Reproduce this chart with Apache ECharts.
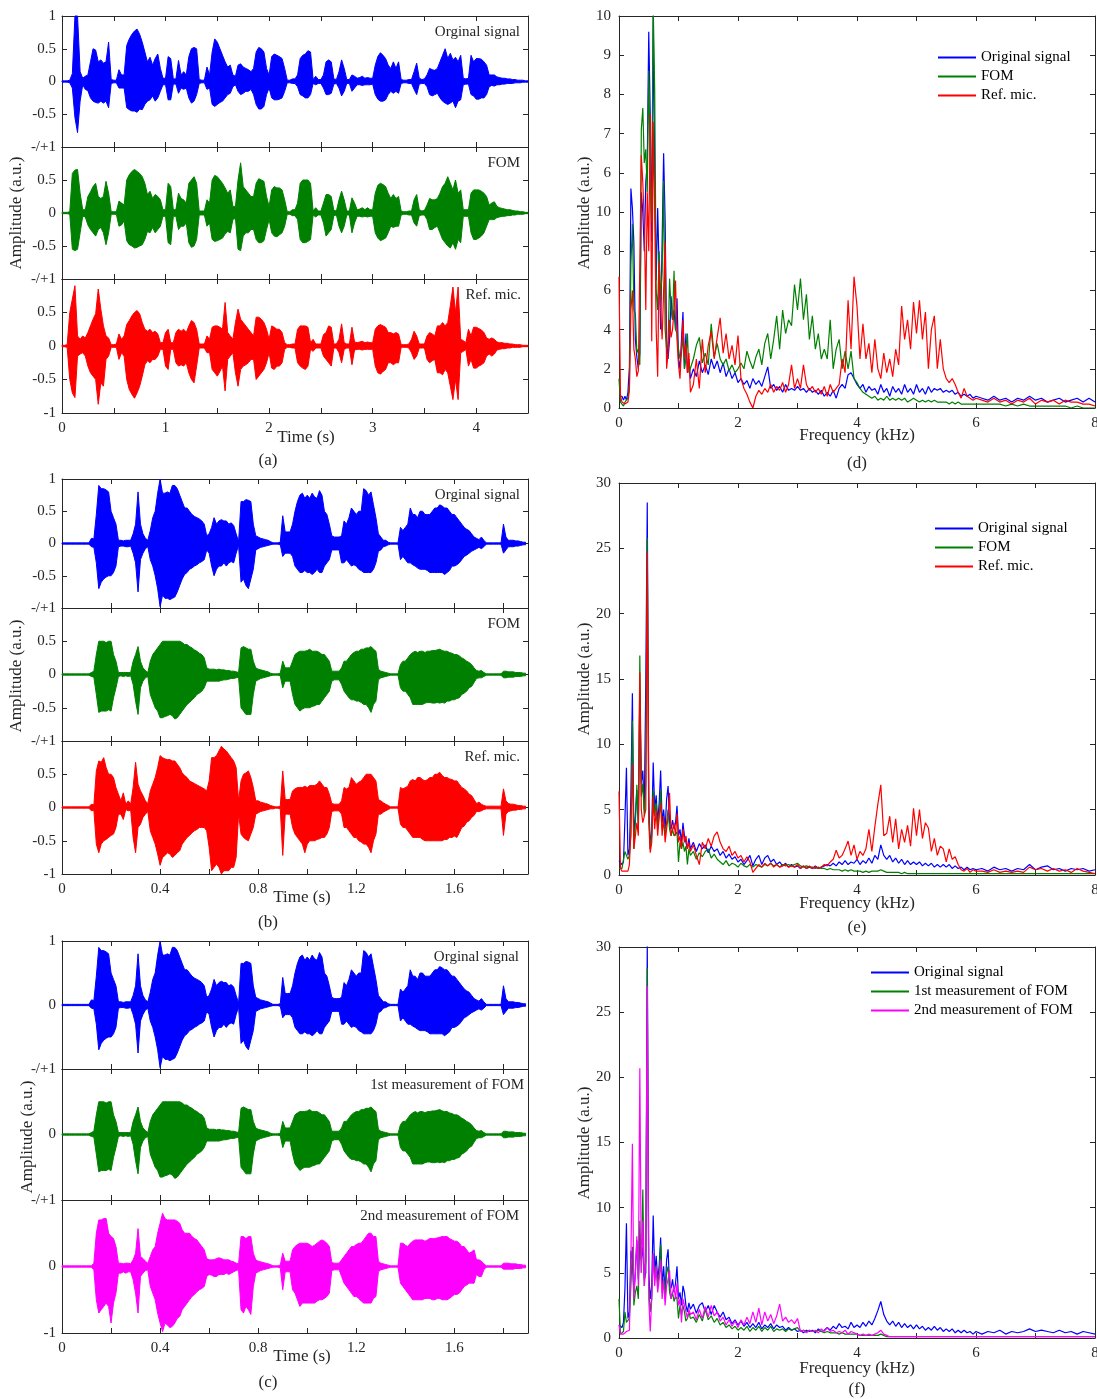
<!DOCTYPE html>
<html>
<head>
<meta charset="utf-8">
<script src="https://cdn.jsdelivr.net/npm/echarts@6.0.0/dist/echarts.min.js"></script>
<style>
  html, body { margin: 0; padding: 0; background: #fff; }
  #chart { width: 1097px; height: 1399px; }
</style>
</head>
<body>
<div id="chart"></div>
<script>
// ---- waveform envelopes (upper / lower peak per time step) ----
// (a): 0 .. 4.5 s, step 0.025 s
var A_DT = 0.025;
var aOrigHi = [.01,.01,.01,.02,.12,1.0,1.0,.15,.05,.08, .1,.3,.5,.48,.3,.33,.28,.3,.6,.03, .02,.02,.18,.1,.1,.55,.65,.72,.77,.8, .72,.6,.45,.3,.37,.25,.35,.42,.2,.05, .05,.38,.35,.04,.04,.32,.1,.15,.1,.38, .5,.52,.5,.03,.02,.02,.22,.1,.45,.65, .6,.5,.4,.3,.22,.25,.1,.08,.25,.27, .22,.2,.18,.15,.2,.45,.52,.5,.45,.2, .1,.38,.42,.4,.38,.35,.2,.02,.02,.04, .04,.1,.35,.4,.42,.47,.45,.03,.08,.03, .03,.1,.3,.33,.3,.04,.03,.15,.33,.2, .03,.03,.1,.08,.05,.06,.08,.05,.06,.05, .05,.25,.38,.44,.4,.35,.25,.2,.3,.2, .3,.03,.02,.02,.03,.03,.15,.28,.05,.03, .04,.1,.2,.18,.17,.2,.3,.4,.5,.35, .43,.33,.37,.3,.4,.05,.04,.05,.4,.3, .35,.35,.34,.3,.25,.1,.1,.1,.07,.06, .05,.05,.04,.04,.03,.03,.02,.02,.02,.01, .01];
var aOrigLo = [-.01,-.01,-.01,-.02,-.1,-.55,-.78,-.3,-.05,-.12, -.14,-.25,-.3,-.32,-.33,-.3,-.33,-.3,-.4,-.03, -.02,-.02,-.1,-.1,-.1,-.4,-.43,-.45,-.45,-.47, -.42,-.43,-.35,-.3,-.28,-.22,-.3,-.25,-.15,-.05, -.05,-.28,-.28,-.04,-.04,-.18,-.1,-.12,-.1,-.25, -.33,-.3,-.2,-.03,-.02,-.02,-.12,-.1,-.35,-.38, -.35,-.32,-.3,-.25,-.2,-.18,-.08,-.05,-.15,-.2, -.18,-.15,-.15,-.12,-.2,-.35,-.42,-.42,-.38,-.2, -.1,-.25,-.28,-.28,-.27,-.25,-.15,-.02,-.02,-.03, -.03,-.08,-.2,-.22,-.25,-.25,-.2,-.03,-.05,-.03, -.03,-.1,-.2,-.2,-.18,-.04,-.03,-.1,-.22,-.15, -.03,-.03,-.15,-.1,-.05,-.05,-.06,-.05,-.05,-.05, -.04,-.2,-.27,-.3,-.3,-.28,-.2,-.15,-.18,-.15, -.18,-.03,-.02,-.02,-.03,-.03,-.12,-.2,-.04,-.03, -.03,-.08,-.2,-.22,-.2,-.18,-.25,-.3,-.33,-.35, -.33,-.3,-.4,-.3,-.28,-.05,-.04,-.04,-.2,-.22, -.27,-.27,-.25,-.25,-.2,-.08,-.06,-.07,-.05,-.05, -.04,-.04,-.03,-.03,-.03,-.02,-.02,-.02,-.01,-.01, -.01];
var aFomHi = [.01,.01,.01,.02,.6,.65,.66,.3,.05,.05, .25,.32,.4,.45,.25,.22,.25,.48,.3,.02, .02,.02,.18,.15,.12,.5,.58,.63,.66,.63, .6,.55,.45,.28,.33,.22,.28,.25,.2,.05, .05,.45,.4,.05,.05,.3,.22,.2,.15,.45, .5,.55,.45,.03,.03,.03,.2,.15,.5,.57, .55,.5,.45,.38,.3,.35,.1,.1,.5,.76, .4,.35,.3,.25,.25,.45,.52,.5,.48,.25, .1,.35,.4,.38,.38,.35,.2,.02,.02,.05, .05,.15,.45,.5,.5,.5,.45,.03,.08,.03, .03,.15,.28,.28,.25,.04,.03,.2,.33,.2, .03,.03,.23,.15,.05,.06,.08,.05,.08,.05, .05,.3,.42,.45,.43,.4,.3,.22,.28,.22, .25,.03,.02,.02,.03,.03,.2,.28,.05,.03, .04,.12,.22,.2,.2,.22,.3,.4,.45,.55, .45,.35,.5,.3,.35,.05,.05,.05,.3,.35, .35,.35,.33,.3,.25,.12,.15,.17,.1,.08, .07,.06,.05,.05,.04,.03,.03,.02,.02,.01, .01];
var aFomLo = [-.01,-.01,-.01,-.02,-.55,-.57,-.55,-.3,-.05,-.06, -.18,-.25,-.3,-.35,-.25,-.22,-.3,-.48,-.3,-.02, -.02,-.02,-.2,-.18,-.12,-.42,-.48,-.5,-.53,-.52, -.5,-.48,-.4,-.28,-.3,-.22,-.3,-.25,-.2,-.05, -.05,-.45,-.48,-.05,-.05,-.25,-.2,-.2,-.15,-.45, -.52,-.5,-.4,-.03,-.03,-.03,-.2,-.15,-.4,-.43, -.42,-.4,-.38,-.32,-.28,-.3,-.1,-.08,-.55,-.57, -.35,-.3,-.3,-.25,-.25,-.4,-.45,-.45,-.42,-.25, -.1,-.3,-.35,-.36,-.33,-.3,-.2,-.02,-.02,-.04, -.04,-.1,-.4,-.45,-.45,-.43,-.4,-.03,-.06,-.03, -.03,-.15,-.35,-.3,-.25,-.04,-.03,-.2,-.3,-.2, -.03,-.03,-.3,-.15,-.05,-.05,-.06,-.05,-.06,-.05, -.05,-.3,-.38,-.42,-.4,-.38,-.3,-.2,-.22,-.2, -.2,-.03,-.02,-.02,-.03,-.03,-.15,-.2,-.04,-.03, -.03,-.1,-.25,-.25,-.22,-.2,-.3,-.4,-.45,-.5, -.53,-.45,-.55,-.4,-.45,-.05,-.05,-.05,-.3,-.4, -.4,-.38,-.35,-.3,-.2,-.1,-.1,-.1,-.07,-.06, -.05,-.05,-.04,-.04,-.03,-.03,-.02,-.02,-.02,-.01, -.01];
var aRefHi = [.01,.01,.02,.5,.7,.9,.15,.1,.15,.12, .2,.3,.4,.48,.85,.55,.3,.15,.12,.02, .02,.03,.18,.1,.15,.32,.38,.45,.5,.53, .48,.35,.25,.22,.25,.2,.22,.18,.05,.05, .2,.25,.05,.05,.2,.25,.22,.25,.2,.3, .38,.35,.25,.03,.03,.03,.15,.1,.28,.3, .3,.28,.25,.65,.2,.15,.1,.35,.55,.4, .35,.3,.25,.2,.15,.43,.43,.4,.35,.25, .1,.3,.28,.25,.25,.2,.05,.02,.02,.03, .03,.25,.3,.3,.3,.28,.05,.1,.03,.03, .03,.17,.2,.3,.28,.03,.03,.1,.33,.05, .03,.03,.28,.06,.05,.06,.07,.05,.06,.05, .05,.25,.3,.32,.3,.28,.2,.2,.18,.2, .18,.02,.02,.02,.03,.1,.22,.15,.03,.03, .03,.15,.2,.18,.15,.3,.3,.35,.3,.35, .6,.88,.5,.88,.1,.08,.05,.25,.15,.28, .28,.26,.24,.2,.12,.1,.12,.1,.06,.05, .05,.04,.04,.03,.03,.02,.02,.02,.01,.01, .01];
var aRefLo = [-.01,-.01,-.02,-.5,-.7,-.77,-.15,-.12,-.1,-.15, -.3,-.4,-.45,-.5,-.87,-.55,-.6,-.2,-.15,-.02, -.02,-.02,-.2,-.1,-.15,-.5,-.65,-.72,-.78,-.7, -.6,-.45,-.28,-.22,-.25,-.2,-.2,-.15,-.05,-.05, -.3,-.35,-.05,-.05,-.25,-.3,-.28,-.3,-.25,-.4, -.5,-.55,-.3,-.03,-.03,-.03,-.1,-.1,-.35,-.4, -.45,-.38,-.3,-.67,-.2,-.15,-.1,-.4,-.6,-.35, -.3,-.28,-.25,-.2,-.2,-.5,-.45,-.4,-.35,-.25, -.1,-.33,-.35,-.3,-.3,-.25,-.05,-.02,-.02,-.03, -.03,-.25,-.3,-.33,-.35,-.3,-.05,-.08,-.03,-.03, -.03,-.15,-.2,-.25,-.3,-.03,-.03,-.1,-.25,-.05, -.03,-.03,-.28,-.06,-.05,-.05,-.06,-.05,-.05,-.05, -.05,-.3,-.4,-.42,-.38,-.35,-.25,-.25,-.28,-.25, -.25,-.02,-.02,-.02,-.03,-.1,-.2,-.15,-.03,-.03, -.03,-.2,-.25,-.22,-.2,-.4,-.4,-.43,-.35,-.4, -.6,-.8,-.5,-.8,-.1,-.08,-.05,-.3,-.2,-.33, -.33,-.3,-.28,-.25,-.15,-.12,-.15,-.12,-.06,-.05, -.04,-.04,-.03,-.03,-.02,-.02,-.02,-.02,-.01,-.01, -.01];

// (b) and (c): 0 .. 1.89 s, step 0.01 s
var B_DT = 0.01;
var bOrigHi = [.01,.01,.01,.01,.01,.01,.01,.01,.01,.01, .01,.01,.08,.07,.45,.9,.85,.85,.83,.8, .5,.4,.3,.05,.05,.04,.05,.05,.05,.15, .3,.8,.3,.15,.08,.05,.2,.4,.5,.78, 1.0,.78,.78,.8,.78,.9,.9,.85,.75,.65, .55,.55,.5,.45,.42,.4,.38,.35,.3,.12, .15,.25,.4,.3,.35,.37,.35,.35,.3,.32, .28,.15,.03,.65,.65,.68,.67,.65,.3,.12, .1,.08,.07,.06,.05,.03,.01,.01,.01,.02, .43,.18,.18,.18,.3,.5,.65,.75,.78,.7, .75,.7,.78,.72,.7,.82,.75,.5,.45,.3, .12,.1,.1,.1,.12,.35,.3,.4,.55,.5, .45,.5,.5,.85,.82,.75,.8,.6,.4,.15, .1,.05,.05,.02,.01,.01,.01,.01,.25,.2, .25,.3,.55,.45,.45,.4,.5,.5,.45,.45, .45,.5,.55,.55,.6,.58,.55,.55,.5,.45, .45,.4,.35,.3,.25,.22,.2,.15,.1,.08, .06,.1,.05,.01,.01,.01,.01,.01,.01,.01, .3,.1,.05,.05,.05,.04,.04,.03,.02,.02];
var bOrigLo = [-.01,-.01,-.01,-.01,-.01,-.01,-.01,-.01,-.01,-.01, -.01,-.01,-.05,-.06,-.3,-.7,-.6,-.55,-.52,-.5, -.5,-.45,-.35,-.05,-.04,-.04,-.05,-.05,-.04,-.15, -.3,-.75,-.25,-.15,-.08,-.05,-.25,-.35,-.5,-.7, -.98,-.8,-.85,-.85,-.87,-.85,-.83,-.75,-.65,-.55, -.48,-.45,-.4,-.38,-.35,-.33,-.3,-.28,-.25,-.1, -.15,-.35,-.5,-.4,-.35,-.35,-.3,-.35,-.3,-.28, -.3,-.15,-.03,-.6,-.55,-.65,-.7,-.55,-.4,-.1, -.08,-.06,-.05,-.04,-.03,-.02,-.01,-.01,-.01,-.02, -.2,-.15,-.15,-.15,-.2,-.35,-.4,-.45,-.45,-.42, -.45,-.45,-.48,-.45,-.4,-.45,-.45,-.35,-.3,-.25, -.1,-.1,-.1,-.1,-.3,-.3,-.25,-.3,-.35,-.33, -.35,-.4,-.42,-.45,-.45,-.45,-.45,-.4,-.3,-.12, -.1,-.05,-.04,-.02,-.01,-.01,-.01,-.01,-.25,-.2, -.25,-.3,-.3,-.33,-.35,-.38,-.4,-.4,-.4,-.42, -.45,-.45,-.45,-.45,-.45,-.45,-.48,-.45,-.42,-.35, -.35,-.33,-.3,-.25,-.2,-.18,-.15,-.12,-.1,-.08, -.06,-.08,-.05,-.01,-.01,-.01,-.01,-.01,-.01,-.01, -.15,-.1,-.05,-.05,-.05,-.04,-.04,-.03,-.02,-.02];
var bFomHi = [.01,.01,.01,.01,.01,.01,.01,.01,.01,.01, .01,.01,.03,.05,.3,.5,.5,.5,.48,.5, .5,.3,.2,.03,.03,.03,.03,.03,.03,.2, .3,.42,.2,.1,.06,.03,.2,.3,.35,.4, .45,.5,.5,.5,.5,.5,.5,.5,.5,.48, .45,.45,.42,.4,.37,.35,.32,.3,.25,.1, .08,.08,.08,.07,.08,.07,.07,.06,.06,.05, .05,.04,.03,.4,.42,.4,.38,.38,.2,.1, .08,.07,.06,.05,.04,.02,.01,.01,.01,.02, .2,.1,.1,.1,.2,.3,.33,.35,.35,.35, .36,.38,.35,.35,.35,.33,.3,.3,.25,.2, .05,.05,.05,.05,.1,.2,.2,.25,.3,.33, .35,.35,.38,.38,.4,.4,.42,.38,.35,.08, .05,.04,.03,.02,.01,.01,.01,.01,.15,.2, .2,.25,.3,.33,.35,.33,.35,.35,.33,.35, .35,.36,.36,.37,.38,.36,.35,.35,.33,.32, .3,.3,.28,.25,.23,.2,.18,.15,.1,.06, .05,.06,.03,.01,.01,.01,.01,.01,.01,.01, .05,.05,.04,.04,.04,.03,.03,.03,.02,.02];
var bFomLo = [-.01,-.01,-.01,-.01,-.01,-.01,-.01,-.01,-.01,-.01, -.01,-.01,-.03,-.04,-.3,-.57,-.55,-.55,-.55,-.53, -.55,-.35,-.2,-.03,-.02,-.03,-.02,-.03,-.02,-.15, -.4,-.6,-.2,-.1,-.05,-.03,-.3,-.4,-.5,-.55, -.65,-.65,-.63,-.62,-.6,-.62,-.67,-.65,-.6,-.55, -.5,-.45,-.42,-.38,-.35,-.3,-.28,-.25,-.2,-.1, -.1,-.1,-.1,-.1,-.1,-.09,-.08,-.08,-.07,-.06, -.06,-.05,-.04,-.5,-.55,-.6,-.6,-.6,-.3,-.1, -.08,-.06,-.05,-.04,-.03,-.02,-.01,-.01,-.01,-.02, -.2,-.1,-.1,-.1,-.3,-.45,-.5,-.55,-.52,-.5, -.5,-.5,-.48,-.47,-.45,-.45,-.4,-.35,-.3,-.25, -.1,-.08,-.08,-.08,-.15,-.25,-.3,-.35,-.38,-.38, -.4,-.4,-.42,-.45,-.45,-.5,-.57,-.45,-.4,-.08, -.05,-.04,-.03,-.02,-.01,-.01,-.01,-.01,-.2,-.25, -.25,-.3,-.35,-.45,-.45,-.45,-.45,-.45,-.43,-.42, -.42,-.43,-.43,-.42,-.43,-.42,-.43,-.4,-.4,-.38, -.38,-.36,-.35,-.3,-.28,-.25,-.2,-.18,-.12,-.06, -.05,-.05,-.03,-.01,-.01,-.01,-.01,-.01,-.01,-.01, -.05,-.05,-.04,-.04,-.04,-.03,-.03,-.03,-.02,-.02];
var bRefHi = [.01,.01,.01,.01,.01,.01,.01,.01,.01,.01, .01,.01,.05,.04,.55,.7,.68,.75,.6,.5, .5,.45,.3,.2,.1,.22,.05,.1,.05,.3, .68,.35,.25,.18,.1,.06,.25,.35,.45,.6, .78,.75,.73,.72,.72,.7,.7,.65,.6,.52, .48,.45,.4,.38,.36,.34,.32,.3,.28,.25, .4,.75,.75,.78,.85,.92,.88,.85,.8,.75, .7,.6,.1,.4,.5,.52,.55,.45,.3,.1, .1,.08,.07,.06,.05,.03,.02,.01,.01,.02, .55,.12,.12,.12,.25,.28,.3,.3,.3,.32, .3,.33,.33,.33,.35,.4,.35,.3,.3,.2, .06,.05,.05,.05,.1,.3,.28,.3,.45,.4, .35,.38,.4,.45,.5,.5,.5,.45,.4,.12, .1,.07,.05,.03,.01,.01,.01,.01,.3,.28, .3,.32,.4,.42,.4,.45,.45,.42,.4,.42, .45,.45,.5,.5,.53,.48,.45,.45,.43,.42, .4,.4,.35,.3,.28,.25,.2,.18,.12,.06, .08,.05,.03,.02,.02,.02,.02,.02,.02,.02, .28,.1,.06,.05,.05,.04,.03,.03,.02,.02];
var bRefLo = [-.01,-.01,-.01,-.01,-.01,-.01,-.01,-.01,-.01,-.01, -.01,-.01,-.05,-.04,-.55,-.68,-.55,-.5,-.48,-.45, -.42,-.4,-.3,-.1,-.1,-.18,-.03,-.05,-.04,-.45, -.68,-.3,-.25,-.15,-.1,-.06,-.35,-.45,-.55,-.7, -.87,-.75,-.72,-.68,-.7,-.75,-.72,-.68,-.65,-.55, -.5,-.45,-.42,-.38,-.35,-.33,-.3,-.3,-.3,-.35, -.6,-.95,-.9,-.85,-.9,-1,-.95,-.95,-.95,-.9, -.9,-.75,-.1,-.4,-.45,-.48,-.5,-.4,-.3,-.1, -.08,-.06,-.05,-.04,-.03,-.02,-.02,-.01,-.01,-.02, -.72,-.1,-.1,-.1,-.3,-.4,-.45,-.5,-.55,-.68, -.55,-.5,-.5,-.5,-.48,-.47,-.45,-.45,-.4,-.3, -.06,-.05,-.05,-.05,-.1,-.3,-.3,-.35,-.4,-.45, -.45,-.5,-.52,-.55,-.55,-.6,-.68,-.5,-.4,-.1, -.1,-.07,-.05,-.03,-.01,-.01,-.01,-.01,-.25,-.3, -.3,-.35,-.4,-.45,-.45,-.45,-.45,-.48,-.5,-.5, -.5,-.5,-.5,-.5,-.5,-.5,-.48,-.48,-.45,-.45, -.43,-.45,-.38,-.3,-.28,-.22,-.2,-.15,-.12,-.06, -.06,-.05,-.03,-.02,-.02,-.02,-.02,-.02,-.02,-.02, -.42,-.1,-.06,-.05,-.04,-.04,-.03,-.03,-.02,-.02];
var cFom2Hi = [.01,.01,.01,.01,.01,.01,.01,.01,.01,.01, .01,.01,.01,.05,.5,.7,.7,.72,.72,.5, .45,.42,.3,.05,.05,.04,.05,.05,.04,.1, .2,.57,.15,.12,.08,.05,.15,.25,.3,.5, .65,.8,.72,.7,.7,.7,.7,.68,.65,.55, .5,.5,.5,.45,.42,.4,.35,.3,.25,.12, .1,.1,.1,.12,.13,.12,.1,.1,.1,.08, .07,.05,.04,.45,.45,.42,.45,.45,.2,.1, .08,.07,.06,.05,.04,.03,.01,.01,.01,.02, .2,.08,.08,.08,.25,.3,.33,.35,.35,.35, .35,.33,.3,.32,.35,.38,.4,.38,.35,.3, .06,.05,.05,.05,.1,.15,.2,.25,.3,.3, .33,.35,.35,.4,.45,.5,.5,.45,.45,.08, .05,.04,.03,.02,.01,.01,.01,.01,.35,.35, .32,.3,.35,.38,.4,.4,.4,.4,.38,.4, .42,.42,.42,.43,.44,.45,.45,.45,.42,.4, .38,.38,.35,.3,.3,.25,.2,.22,.25,.1, .1,.08,.04,.01,.01,.01,.01,.01,.01,.01, .05,.05,.05,.04,.04,.04,.03,.03,.02,.02];
var cFom2Lo = [-.01,-.01,-.01,-.01,-.01,-.01,-.01,-.01,-.01,-.01, -.01,-.01,-.01,-.05,-.5,-.7,-.65,-.6,-.55,-.6, -.85,-.55,-.4,-.1,-.1,-.08,-.1,-.08,-.08,-.2, -.4,-.7,-.15,-.1,-.06,-.05,-.3,-.4,-.5,-.7, -.85,-.98,-.85,-.88,-.92,-.9,-.85,-.78,-.75,-.65, -.6,-.55,-.5,-.45,-.42,-.38,-.35,-.33,-.3,-.15, -.12,-.13,-.15,-.15,-.12,-.12,-.12,-.1,-.12,-.1, -.08,-.06,-.05,-.65,-.7,-.6,-.65,-.72,-.3,-.1, -.08,-.06,-.05,-.04,-.03,-.02,-.01,-.01,-.01,-.02, -.35,-.08,-.08,-.08,-.35,-.4,-.5,-.6,-.55,-.55, -.55,-.55,-.55,-.55,-.52,-.5,-.5,-.48,-.45,-.4, -.06,-.05,-.05,-.05,-.15,-.25,-.3,-.35,-.4,-.45, -.45,-.48,-.52,-.55,-.55,-.55,-.55,-.48,-.45,-.08, -.05,-.04,-.03,-.02,-.01,-.01,-.01,-.01,-.25,-.3, -.35,-.4,-.45,-.5,-.5,-.5,-.5,-.5,-.48,-.48, -.48,-.5,-.5,-.48,-.48,-.5,-.5,-.5,-.48,-.45, -.42,-.42,-.4,-.35,-.3,-.28,-.25,-.25,-.25,-.12, -.15,-.15,-.05,-.01,-.01,-.01,-.01,-.01,-.01,-.01, -.04,-.04,-.04,-.04,-.04,-.03,-.03,-.03,-.02,-.02];

// ---- spectra: 0-1.2 kHz step 0.025, 1.25-6 kHz step 0.05, 6.1-8 kHz step 0.1 ----
// (d) values in display units of the broken axis (upper half shows 6..10)
var dOrig = [0.6,0.5,0.6,0.4,0.6,0.4,0.8,2.1,11.2,10.2, 8.4,3.5,2.6,2.0,2.8,11.0,10.0,8.0,11.5,12.5, 19.2,15.0,8.5,20.0,12.0,6.5,10.2,7.0,4.0,8.5, 13.0,9.6,3.5,2.5,3.5,5.7,4.5,5.0,4.0,5.6, 2.5,2.0,3.5,4.9,2.0,3.8,1.8,2.5,1.5,
  2.0,1.6,2.4,1.8,2.2,1.7,2.5,2.0,2.4,1.8, 2.3,1.6,2.0,1.5,1.8,1.3,1.5,1.2,1.4,1.0, 1.5,1.2,1.4,1.1,1.6,2.1,1.0,1.2,0.9,1.1, 0.8,1.2,0.9,1.0,0.9,1.1,0.9,1.0,0.8,1.0, 0.8,0.9,0.7,0.9,0.6,0.8,0.6,0.9,0.5,1.0, 1.2,1.0,1.7,1.8,1.5,1.2,1.0,1.2,0.8,1.1, 0.9,1.0,0.7,1.2,0.8,1.0,0.6,1.1,0.8,1.0, 0.7,1.2,0.8,1.0,0.7,1.2,0.8,1.0,0.7,1.1, 0.8,1.0,0.9,1.0,0.8,0.9,0.8,0.9,0.7,0.8, 0.6,0.7,0.6,0.7,0.5,0.6,
  0.5,0.4,0.6,0.4,0.5,0.3,0.5,0.4,0.6,0.4, 0.5,0.3,0.4,0.5,0.3,0.4,0.5,0.3,0.5,0.3];
var dFom = [1.5,0.3,0.2,0.1,0.3,0.2,0.5,1.2,7.3,9.4, 5.0,4.8,2.8,3.0,2.2,14.2,15.3,12.5,13.2,11.0, 17.2,12.0,9.5,20.5,16.2,6.0,5.0,8.0,5.5,7.0, 11.6,4.0,3.0,3.2,6.6,5.0,4.5,7.0,4.0,3.8, 3.0,2.5,2.8,3.7,2.0,2.5,3.8,1.8,1.7,
  2.5,3.2,3.6,2.3,2.8,2.2,4.3,2.6,3.3,2.5, 2.2,2.5,1.9,2.2,1.8,2.0,2.3,2.0,2.9,2.4, 2.0,2.6,3.0,2.2,3.3,3.8,2.5,3.5,4.7,3.0, 5.0,3.8,4.5,4.2,6.3,5.0,6.6,4.5,5.8,3.5, 4.7,3.0,3.8,2.5,3.0,2.5,4.5,2.0,3.0,3.5, 2.0,2.9,2.0,2.9,1.5,1.3,1.0,0.8,0.7,0.6, 0.5,0.6,0.4,0.5,0.4,0.6,0.4,0.5,0.4,0.5, 0.4,0.5,0.3,0.4,0.5,0.4,0.3,0.4,0.3,0.4, 0.3,0.4,0.3,0.3,0.3,0.3,0.2,0.3,0.2,0.3, 0.2,0.2,0.2,0.2,0.2,0.2,
  0.2,0.2,0.2,0.2,0.1,0.2,0.1,0.2,0.1,0.1, 0.1,0.1,0.1,0.1,0.1,0.0,0.1,0.0,0.0,0.0];
var dRef = [6.7,0.6,0.3,0.3,0.2,0.3,0.3,0.9,5.0,6.0, 3.0,2.5,1.6,1.9,2.0,12.9,11.5,9.5,5.0,11.0, 8.0,15.0,3.4,14.6,10.0,4.0,1.6,7.5,5.0,3.5, 6.0,8.5,2.0,2.8,4.5,3.6,4.0,5.0,6.5,3.5, 2.2,1.5,3.0,4.5,2.5,3.3,1.8,2.8,0.8,
  1.2,2.5,1.0,3.5,1.8,3.2,3.9,2.5,3.6,4.6, 2.8,3.8,2.5,3.2,2.2,3.7,1.5,1.0,0.7,0.3, 0.0,0.6,0.9,0.7,1.0,0.8,1.2,0.8,1.1,0.9, 1.3,0.8,1.2,2.2,1.0,1.5,1.0,2.2,1.2,0.9, 1.1,0.8,1.0,0.7,1.1,0.6,1.2,0.8,1.0,1.2, 2.5,1.8,5.5,3.0,6.7,5.2,2.5,4.3,2.5,3.3, 1.8,3.5,2.0,1.5,2.8,1.8,2.5,1.6,3.0,2.2, 5.2,3.5,4.5,3.0,5.4,3.8,5.5,3.5,4.9,2.0, 4.0,4.7,2.0,3.5,2.0,1.5,1.3,1.5,1.2,0.8, 0.5,1.0,0.6,0.5,0.4,0.5,
  0.4,0.3,0.5,0.3,0.4,0.2,0.4,0.3,0.5,0.2, 0.4,0.3,0.4,0.2,0.4,0.3,0.3,0.2,0.2,0.1];

var eOrig = [1.1,1.0,0.8,1.0,4.3,8.2,1.5,2.0,6.2,13.9, 3.0,4.5,6.5,4.0,14.0,7.0,8.0,5.0,14.7,28.5, 6.0,2.0,3.5,8.6,5.0,6.1,4.0,5.5,8.0,4.0, 5.0,3.5,5.8,6.8,4.0,3.5,4.2,3.5,4.0,5.3, 3.0,3.5,2.5,4.0,3.0,2.5,2.0,2.8,2.0,
  2.5,1.8,2.4,2.0,2.3,1.7,2.2,1.8,2.0,1.5, 1.8,1.3,1.6,1.2,1.4,1.0,1.2,0.8,1.1,1.5, 0.7,1.2,1.5,0.8,1.3,1.5,1.0,1.2,0.8,1.0, 0.7,0.9,0.6,0.8,0.6,0.7,0.5,0.7,0.5,0.6, 0.5,0.7,0.5,0.6,0.7,0.8,0.7,0.9,0.7,1.0, 0.8,1.1,0.8,1.0,0.9,1.2,0.8,1.1,0.9,1.3, 0.9,1.5,1.2,2.3,1.5,1.2,1.5,1.0,1.3,0.9, 1.2,0.8,1.1,0.8,1.0,0.8,1.0,0.7,0.9,0.7, 0.9,0.6,0.8,0.6,0.8,0.6,0.8,0.5,0.7,0.5, 0.6,0.4,0.6,0.4,0.5,0.4,
  0.5,0.3,0.6,0.4,0.5,0.3,0.5,0.4,0.8,0.4, 0.6,0.7,0.4,0.5,0.3,0.5,0.4,0.5,0.3,0.4];
var eFom = [0.5,0.4,0.5,0.6,1.8,1.5,1.2,1.5,3.0,11.8, 2.0,4.0,6.9,3.5,16.8,6.0,7.0,4.5,7.0,25.8, 5.0,2.0,3.0,6.5,4.5,5.5,3.5,4.5,6.5,3.5, 4.0,3.0,4.0,5.0,3.5,3.0,3.5,3.0,3.0,3.3, 1.0,2.5,2.0,2.5,1.8,2.2,0.8,2.0,1.5,
  1.8,1.2,1.7,1.4,1.8,2.0,1.3,1.6,1.2,1.0, 0.8,1.1,0.7,0.9,0.8,0.6,0.9,0.7,0.6,0.8, 0.6,0.8,0.7,0.6,0.8,0.7,0.9,0.7,0.8,0.6, 0.8,0.7,0.8,0.7,0.8,0.9,0.7,0.6,0.7,0.6, 0.6,0.5,0.6,0.5,0.5,0.4,0.5,0.4,0.4,0.4, 0.3,0.4,0.3,0.4,0.3,0.3,0.3,0.2,0.3,0.2, 0.3,0.3,0.3,0.4,0.3,0.2,0.2,0.2,0.2,0.2, 0.1,0.2,0.1,0.1,0.1,0.1,0.1,0.1,0.1,0.1, 0.1,0.1,0.1,0.1,0.1,0.1,0.1,0.1,0.1,0.1, 0.1,0.1,0.1,0.1,0.1,0.1,
  0.1,0.1,0.1,0.1,0.1,0.1,0.1,0.1,0.1,0.1, 0.1,0.1,0.1,0.1,0.1,0.1,0.1,0.1,0.1,0.1];
var eRef = [6.4,0.5,0.3,0.2,0.3,0.3,0.3,0.8,3.5,8.5, 2.0,3.0,4.0,3.0,15.5,5.0,4.0,4.5,5.0,24.7, 4.0,1.7,2.5,6.0,3.5,5.0,3.0,4.5,5.5,3.0, 4.5,2.5,3.5,4.5,6.3,3.0,3.5,4.0,3.0,4.7, 2.5,3.0,2.0,3.5,2.5,3.0,2.0,2.5,1.8,
  2.3,1.5,0.8,2.5,2.0,2.8,2.2,3.0,3.3,2.5, 2.0,1.8,2.2,1.5,1.8,1.3,1.5,1.0,1.4,1.0, 0.2,0.5,0.8,0.6,0.9,0.7,0.9,0.6,0.8,0.6, 0.7,0.8,0.6,0.7,0.6,0.8,0.5,0.7,0.5,0.7, 0.5,0.6,0.5,0.6,0.8,0.7,1.0,1.2,1.9,1.3, 1.5,2.0,2.6,1.5,2.3,1.2,1.8,1.5,2.0,3.5, 1.8,3.7,5.4,6.9,3.0,3.2,4.5,2.5,4.3,2.0, 3.5,2.5,3.8,2.2,5.1,3.0,5.0,2.8,4.0,3.6, 1.8,2.8,1.5,2.2,2.0,1.0,2.0,1.2,1.4,0.8, 0.4,0.3,0.5,0.2,0.4,0.3,
  0.3,0.2,0.4,0.2,0.3,0.2,0.3,0.2,0.6,0.4, 0.5,0.3,0.5,0.3,0.4,0.2,0.5,0.3,0.2,0.1];

var fOrig = [1.0,1.0,0.8,1.2,3.8,8.8,1.5,2.0,6.7,6.0, 3.5,5.0,7.5,4.5,8.0,6.0,7.0,4.5,5.0,30.5, 5.0,3.0,4.0,9.4,5.0,6.3,4.5,5.5,7.7,4.0, 5.5,3.5,6.0,6.8,4.0,3.8,4.5,3.5,4.2,5.5, 3.0,3.5,2.5,4.0,3.5,2.5,2.0,2.7,2.2,
  2.6,1.9,2.5,2.7,2.0,2.5,1.8,2.5,2.0,1.6, 2.0,1.4,1.6,1.1,1.4,1.0,1.3,0.9,1.2,0.8, 1.1,0.8,1.2,0.7,1.0,0.8,1.1,0.7,1.0,0.8, 0.9,0.6,0.8,0.6,0.7,0.5,0.6,0.4,0.6,0.5, 0.6,0.4,0.7,0.5,0.6,0.8,0.6,0.9,0.7,1.1, 0.8,0.9,0.7,1.2,0.8,1.0,0.8,1.2,0.9,1.3, 1.0,1.5,2.1,2.8,1.8,1.3,1.0,1.3,0.9,1.2, 0.8,1.1,0.8,1.0,0.7,1.0,0.7,0.9,0.6,0.8, 0.6,0.9,0.6,0.8,0.5,0.7,0.5,0.7,0.4,0.6, 0.4,0.6,0.4,0.5,0.3,0.5,
  0.3,0.5,0.4,0.6,0.3,0.5,0.4,0.5,0.7,0.5, 0.6,0.5,0.4,0.6,0.4,0.5,0.3,0.5,0.4,0.3];
var fFom1 = [3.0,0.3,0.4,0.5,2.0,1.2,1.2,1.5,4.0,7.0, 2.5,3.5,4.0,3.0,9.0,5.0,11.4,4.0,6.0,28.4, 4.0,2.0,3.0,6.5,4.5,5.5,4.0,5.0,7.2,3.5, 4.5,3.0,5.0,5.5,3.5,3.0,3.5,2.8,3.2,3.0, 1.5,2.5,1.8,2.5,2.0,1.3,1.5,2.0,1.5,
  1.6,1.2,1.8,1.3,2.2,1.4,1.7,1.2,1.5,1.0, 1.2,0.8,1.0,0.7,0.9,0.6,0.8,0.6,0.9,0.5, 0.8,0.6,0.9,0.5,0.8,0.6,0.9,0.5,0.7,0.6, 0.7,0.5,0.7,0.6,0.7,0.8,0.5,0.6,0.5,0.6, 0.5,0.5,0.6,0.5,0.4,0.5,0.4,0.4,0.4,0.3, 0.4,0.3,0.3,0.3,0.3,0.3,0.2,0.2,0.2,0.2, 0.2,0.2,0.2,0.3,0.2,0.1,0.1,0.1,0.1,0.1, 0.1,0.1,0.1,0.1,0.1,0.1,0.1,0.1,0.1,0.1, 0.1,0.1,0.1,0.1,0.1,0.1,0.1,0.1,0.1,0.1, 0.1,0.1,0.1,0.1,0.1,0.1,
  0.1,0.1,0.1,0.1,0.1,0.1,0.1,0.1,0.1,0.1, 0.1,0.1,0.1,0.1,0.1,0.1,0.1,0.1,0.1,0.1];
var fFom2 = [1.0,0.3,0.3,0.3,0.4,0.5,0.4,0.6,6.0,14.9, 3.0,5.0,7.8,4.0,20.7,5.0,9.0,4.0,6.0,27.0, 3.0,0.5,3.0,6.5,4.0,5.5,3.5,4.5,6.0,3.0, 4.5,2.5,4.0,4.5,5.2,3.0,3.5,4.0,3.0,4.2, 2.5,3.0,1.2,3.0,2.5,2.5,1.5,2.2,1.8,
  2.0,1.4,2.2,1.5,2.4,1.6,2.5,1.7,2.0,1.3, 1.6,1.0,1.4,0.9,1.3,0.8,1.4,1.0,1.6,1.1, 2.0,1.2,2.3,1.0,2.0,1.3,1.8,1.1,1.7,2.6, 1.3,1.6,1.2,1.4,1.1,1.5,0.5,0.6,0.4,0.6, 0.5,0.6,0.4,0.7,0.5,0.8,0.5,0.6,0.4,0.5, 0.4,0.6,0.3,0.5,0.4,0.3,0.2,0.3,0.2,0.3, 0.2,0.3,0.4,0.6,0.3,0.2,0.1,0.1,0.1,0.1, 0.1,0.1,0.1,0.1,0.1,0.1,0.1,0.1,0.1,0.1, 0.1,0.1,0.1,0.1,0.1,0.1,0.1,0.1,0.1,0.1, 0.1,0.1,0.1,0.1,0.1,0.1,
  0.1,0.1,0.1,0.1,0.1,0.1,0.1,0.1,0.1,0.1, 0.1,0.1,0.1,0.1,0.1,0.1,0.1,0.1,0.1,0.1];

// sampling positions of the spectra
function steps(a, b, d) {
  var out = [];
  for (var i = 0; a + i * d <= b + 1e-9; i++) out.push(+(a + i * d).toFixed(3));
  return out;
}
var FREQ = steps(0, 1.2, 0.025).concat(steps(1.25, 6, 0.05), steps(6.1, 8, 0.1));

var SERIF = 'Liberation Serif';
var INK = '#262626';
var BLUE = '#0000ff', GREEN = '#008000', RED = '#ff0000', MAGENTA = '#ff00ff';
var TICK_FS = 15, NOTE_FS = 15, TITLE_FS = 17;

var grids = [], xAxes = [], yAxes = [], series = [], graphics = [];

function axisPair(g, cfg, dir, labelMargin) {
  var common = {
    gridIndex: g, type: 'value', min: cfg.min, max: cfg.max, interval: cfg.interval,
    axisLine: { show: true, onZero: false, lineStyle: { color: INK, width: 1 } },
    axisTick: { show: cfg.ticks !== false, inside: true, length: 5, lineStyle: { color: INK, width: 1 } },
    splitLine: { show: false }
  };
  var main = Object.assign({}, common, {
    position: dir === 'x' ? 'bottom' : 'left',
    axisLabel: cfg.fmt ? { show: true, formatter: cfg.fmt, color: INK, fontFamily: SERIF, fontSize: TICK_FS, margin: labelMargin } : { show: false }
  });
  var mirror = Object.assign({}, common, { position: dir === 'x' ? 'top' : 'right', axisLabel: { show: false } });
  return [main, mirror];
}

function addGrid(box, xCfg, yCfg, yMargin) {
  var g = grids.length;
  grids.push({ left: box[0], top: box[1], width: box[2], height: box[3], containLabel: false, outerBoundsMode: 'none' });
  xAxes.push.apply(xAxes, axisPair(g, xCfg, 'x', 8));
  yAxes.push.apply(yAxes, axisPair(g, yCfg, 'y', yMargin));
  return g;
}

function waveSeries(g, dt, hi, lo, color) {
  var data = hi.map(function (h, i) { return [+(i * dt).toFixed(4), h, lo[i]]; });
  return {
    type: 'custom', xAxisIndex: 2 * g, yAxisIndex: 2 * g, data: data, silent: true,
    encode: { x: 0, y: [1, 2] },
    renderItem: function (params, api) {
      if (params.dataIndex !== 0) return;
      var pts = [], i;
      for (i = 0; i < data.length; i++) pts.push(api.coord([data[i][0], data[i][1]]));
      for (i = data.length - 1; i >= 0; i--) pts.push(api.coord([data[i][0], data[i][2]]));
      return { type: 'polygon', shape: { points: pts }, style: { fill: color, stroke: color, lineWidth: 1 } };
    }
  };
}

function specSeries(g, name, vals, color) {
  return {
    type: 'line', name: name, xAxisIndex: 2 * g, yAxisIndex: 2 * g, symbol: 'none', silent: true,
    data: vals.map(function (v, i) { return [FREQ[i], v]; }),
    lineStyle: { color: color, width: 1.2 }, itemStyle: { color: color }
  };
}

function txt(s, x, y, size, align, rot) {
  return {
    type: 'text', x: x, y: y, rotation: rot || 0, silent: true,
    style: {
      text: s, fill: INK, font: size + 'px "' + SERIF + '"',
      align: align || 'center', verticalAlign: 'middle',
      textAlign: align || 'center', textVerticalAlign: 'middle'
    }
  };
}

// amplitude labels: shared boundaries read "-/+1"
function ampFmt(pos) {
  return function (v) {
    if (Math.abs(v - 1) < 1e-6) return pos === 0 ? '1' : '';
    if (Math.abs(v + 1) < 1e-6) return pos === 2 ? '-1' : '-/+1';
    return String(v);
  };
}
function secFmt(v) { return Math.abs(v - Math.round(v)) < 1e-6 ? String(Math.round(v)) : ''; }
function shortFmt(v) {
  var k = Math.round(v * 10);
  return (Math.abs(v * 10 - k) < 1e-6 && k % 4 === 0) ? String(k / 10) : '';
}

// ---- left column: waveforms ----
var wavePanels = [
  { tops: [16, 147, 279], hs: [131, 132, 134], x: { min: 0, max: 4.5, interval: 0.5 }, fmt: secFmt, dt: A_DT, step: 0.5,
    sigs: [[aOrigHi, aOrigLo, BLUE], [aFomHi, aFomLo, GREEN], [aRefHi, aRefLo, RED]],
    names: ['Orginal signal', 'FOM', 'Ref. mic.'], nameX: [520, 520, 521] },
  { tops: [479, 608, 741], hs: [129, 133, 133], x: { min: 0, max: 1.9, interval: 0.2 }, fmt: shortFmt, dt: B_DT, step: 0.5,
    sigs: [[bOrigHi, bOrigLo, BLUE], [bFomHi, bFomLo, GREEN], [bRefHi, bRefLo, RED]],
    names: ['Orginal signal', 'FOM', 'Ref. mic.'], nameX: [520, 520, 520] },
  { tops: [941, 1069, 1200], hs: [128, 131, 133], x: { min: 0, max: 1.9, interval: 0.2 }, fmt: shortFmt, dt: B_DT, step: 1,
    sigs: [[bOrigHi, bOrigLo, BLUE], [bFomHi, bFomLo, GREEN], [cFom2Hi, cFom2Lo, MAGENTA]],
    names: ['Orginal signal', '1st measurement of FOM', '2nd measurement of FOM'], nameX: [519, 524, 519] }
];

wavePanels.forEach(function (p) {
  for (var k = 0; k < 3; k++) {
    var xCfg = Object.assign({}, p.x, { fmt: k === 2 ? p.fmt : null });
    var yCfg = { min: -1, max: 1, interval: p.step, fmt: ampFmt(k), ticks: p.step < 1 };
    var g = addGrid([62, p.tops[k], 466, p.hs[k]], xCfg, yCfg, 6);
    series.push(waveSeries(g, p.dt, p.sigs[k][0], p.sigs[k][1], p.sigs[k][2]));
    graphics.push(txt(p.names[k], p.nameX[k], p.tops[k] + 16, NOTE_FS, 'right'));
  }
});

graphics.push(txt('Amplitude (a.u.)', 17, 213, TITLE_FS, 'center', Math.PI / 2));
graphics.push(txt('Amplitude (a.u.)', 17, 676, TITLE_FS, 'center', Math.PI / 2));
graphics.push(txt('Amplitude (a.u.)', 28, 1137, TITLE_FS, 'center', Math.PI / 2));
graphics.push(txt('Time (s)', 306, 438, TITLE_FS));
graphics.push(txt('Time (s)', 302, 898, TITLE_FS));
graphics.push(txt('Time (s)', 302, 1357, TITLE_FS));
graphics.push(txt('(a)', 268, 461, TITLE_FS));
graphics.push(txt('(b)', 268, 923, TITLE_FS));
graphics.push(txt('(c)', 268, 1383, TITLE_FS));

// ---- right column: spectra ----
var freqX = { min: 0, max: 8, interval: 1, fmt: function (v) { return v % 2 === 0 ? String(v) : ''; } };
var gd = addGrid([619, 16, 476, 392], freqX,
  { min: 0, max: 20, interval: 2, fmt: function (v) { return String(v <= 10 ? v : v / 2); } }, 8);
var ge = addGrid([619, 483, 476, 392], freqX, { min: 0, max: 30, interval: 5, fmt: function (v) { return String(v); } }, 8);
var gf = addGrid([619, 947, 476, 391], freqX, { min: 0, max: 30, interval: 5, fmt: function (v) { return String(v); } }, 8);

series.push(specSeries(gd, 'Original signal', dOrig, BLUE));
series.push(specSeries(gd, 'FOM', dFom, GREEN));
series.push(specSeries(gd, 'Ref. mic.', dRef, RED));
series.push(specSeries(ge, 'Original signal', eOrig, BLUE));
series.push(specSeries(ge, 'FOM', eFom, GREEN));
series.push(specSeries(ge, 'Ref. mic.', eRef, RED));
series.push(specSeries(gf, 'Original signal', fOrig, BLUE));
series.push(specSeries(gf, '1st measurement of FOM', fFom1, GREEN));
series.push(specSeries(gf, '2nd measurement of FOM', fFom2, MAGENTA));

[[213, 436, 464], [679, 904, 928], [1143, 1369, 1390]].forEach(function (r, i) {
  graphics.push(txt('Amplitude (a.u.)', 585, r[0], TITLE_FS, 'center', Math.PI / 2));
  graphics.push(txt('Frequency (kHz)', 857, r[1], TITLE_FS));
  graphics.push(txt('(' + 'def'[i] + ')', 857, r[2], TITLE_FS));
});

function legendAt(left, top, names) {
  return {
    data: names.map(function (n) { return { name: n, icon: 'rect' }; }),
    left: left, top: top, orient: 'vertical', padding: 0,
    itemWidth: 38, itemHeight: 2, itemGap: 4, selectedMode: false,
    textStyle: { color: '#000', fontFamily: SERIF, fontSize: NOTE_FS, lineHeight: 15 }
  };
}

var chart = echarts.init(document.getElementById('chart'));
chart.setOption({
  animation: false,
  backgroundColor: '#fff',
  grid: grids,
  xAxis: xAxes,
  yAxis: yAxes,
  legend: [
    legendAt(938, 50, ['Original signal', 'FOM', 'Ref. mic.']),
    legendAt(935, 521, ['Original signal', 'FOM', 'Ref. mic.']),
    legendAt(871, 965, ['Original signal', '1st measurement of FOM', '2nd measurement of FOM'])
  ],
  series: series,
  graphic: graphics
});
</script>
</body>
</html>
